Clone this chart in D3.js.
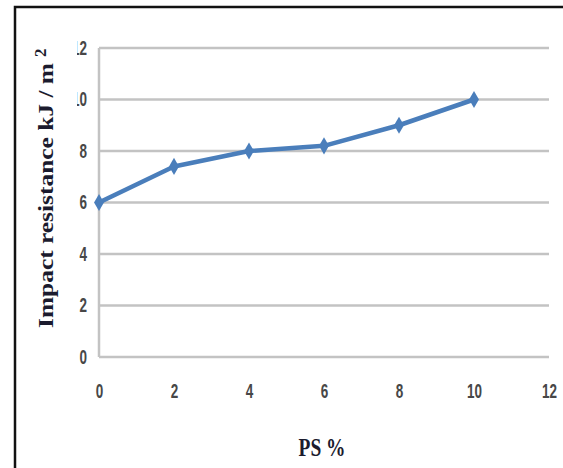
<!DOCTYPE html>
<html>
<head>
<meta charset="utf-8">
<script src="https://d3js.org/d3.v7.min.js"></script>
<style>
    body { margin: 0; background: #fff; }
    .tick text { font-family: "Liberation Sans", "DejaVu Sans", sans-serif; font-weight: bold; font-size: 20px; fill: #474747; }
</style>
</head>
<body>
<svg id="chart" width="563" height="468"></svg>
<script>
    // values
    const psPercent = [0, 2, 4, 6, 8, 10];
    const impact = [6.0, 7.4, 8.0, 8.2, 9.0, 10.0];
    const xTicks = [0, 2, 4, 6, 8, 10, 12];
    const yTicks = [0, 2, 4, 6, 8, 10, 12];

    const svg = d3.select("#chart");
    const margins = { top: 48, right: 14, bottom: 111, left: 99 };
    const width = +svg.attr("width");
    const height = +svg.attr("height");

    const x = d3.scaleLinear().domain([0, 12]).range([margins.left, width - margins.right]);
    const y = d3.scaleLinear().domain([0, 12]).range([height - margins.bottom, margins.top]);

    // outer frame (only top and left edges show in the crop)
    svg.append("rect")
        .attr("x", 15).attr("y", 7)
        .attr("width", 700).attr("height", 600)
        .attr("fill", "none")
        .attr("stroke", "#111")
        .attr("stroke-width", 2.5);

    // horizontal gridlines
    svg.append("g")
        .selectAll("line")
        .data(yTicks)
        .join("line")
        .attr("x1", x(0)).attr("x2", x(12))
        .attr("y1", d => y(d)).attr("y2", d => y(d))
        .attr("stroke", "#c3c3c3")
        .attr("stroke-width", 2.5);

    // vertical axis line
    svg.append("line")
        .attr("x1", x(0)).attr("x2", x(0))
        .attr("y1", y(0)).attr("y2", y(12))
        .attr("stroke", "#c3c3c3")
        .attr("stroke-width", 2.5);

    // narrow, tall digits like the picture
    function squeeze(g) {
        g.selectAll(".tick text")
            .attr("textLength", function () { return this.textContent.length * 7.5; })
            .attr("lengthAdjust", "spacingAndGlyphs");
    }

    // x tick labels
    const bottomAxis = d3.axisBottom(x).tickValues(xTicks).tickSize(0).tickPadding(27);
    svg.append("g")
        .attr("transform", "translate(0," + y(0) + ")")
        .call(bottomAxis)
        .call(g => g.select(".domain").remove())
        .call(squeeze);

    // y tick labels, left part cut off as in the picture
    svg.append("clipPath").attr("id", "ylabClip")
        .append("rect").attr("x", 77).attr("y", 0).attr("width", 100).attr("height", height);

    const leftAxis = d3.axisLeft(y).tickValues(yTicks).tickSize(0).tickPadding(12);
    svg.append("g")
        .attr("clip-path", "url(#ylabClip)")
        .append("g")
        .attr("transform", "translate(" + x(0) + ",0)")
        .call(leftAxis)
        .call(g => g.select(".domain").remove())
        .call(squeeze);

    // data line
    const line = d3.line()
        .x((d, i) => x(psPercent[i]))
        .y(d => y(d));

    svg.append("path")
        .datum(impact)
        .attr("d", line)
        .attr("fill", "none")
        .attr("stroke", "#4a7ebb")
        .attr("stroke-width", 4.5)
        .attr("stroke-linejoin", "round");

    svg.append("g")
        .selectAll("path")
        .data(impact)
        .join("path")
        .attr("transform", (d, i) => "translate(" + x(psPercent[i]) + "," + y(d) + ")")
        .attr("d", d3.symbol().type(d3.symbolDiamond).size(85))
        .attr("fill", "#4a7ebb");

    // axis titles
    svg.append("text")
        .attr("x", 322)
        .attr("y", 456)
        .attr("text-anchor", "middle")
        .attr("font-family", "Liberation Serif, serif")
        .attr("font-weight", "bold")
        .attr("font-size", 26)
        .attr("textLength", 47)
        .attr("lengthAdjust", "spacingAndGlyphs")
        .attr("fill", "#1b1b2e")
        .text("PS %");

    const yTitle = svg.append("text")
        .attr("transform", "translate(53,328) rotate(-90)")
        .attr("font-family", "Liberation Serif, serif")
        .attr("font-weight", "bold")
        .attr("font-size", 22)
        .attr("fill", "#1b1b2e");
    yTitle.append("tspan")
        .attr("textLength", 265)
        .attr("lengthAdjust", "spacingAndGlyphs")
        .text("Impact resistance kJ / m");
    yTitle.append("tspan")
        .attr("dx", 6)
        .attr("dy", -7)
        .attr("font-size", 17)
        .text("2");
</script>
</body>
</html>
